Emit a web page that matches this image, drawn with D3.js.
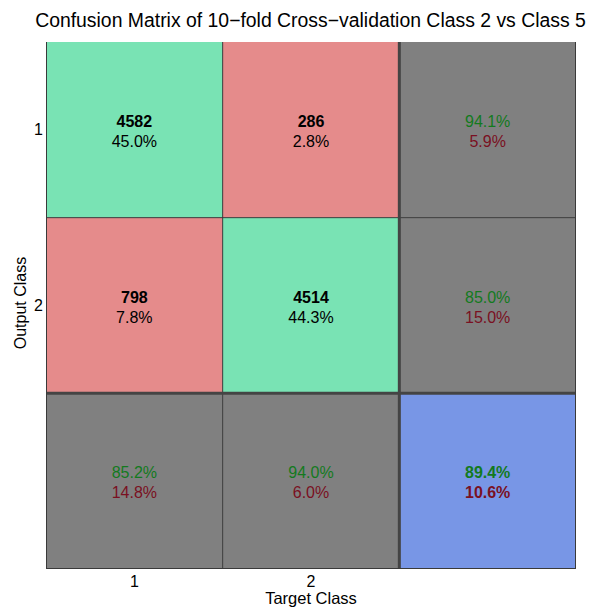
<!DOCTYPE html>
<html><head><meta charset="utf-8">
<script src="https://cdn.jsdelivr.net/npm/d3@7/dist/d3.min.js"></script>
<style>body{margin:0;background:#fff;}svg{display:block;font-family:"Liberation Sans",Arial,sans-serif;}</style>
</head><body>
<script>
const title = "Confusion Matrix of 10\u2212fold Cross\u2212validation Class 2 vs Class 5";
const classes = ["1", "2"];
const counts = [[4582, 286], [798, 4514]];            // rows: output, cols: target
const cellPct = [["45.0%", "2.8%"], ["7.8%", "44.3%"]];
const rowCorrect = ["94.1%", "85.0%"];
const rowWrong = ["5.9%", "15.0%"];
const colCorrect = ["85.2%", "94.0%"];
const colWrong = ["14.8%", "6.0%"];
const totalCorrect = "89.4%";
const totalWrong = "10.6%";

const W = 597, H = 607;
const svg = d3.select("body").append("svg").attr("width", W).attr("height", H);
const L = 46, R = 576, T = 42, B = 569;
const idx = [0, 1, 2];
const x = d3.scaleBand().domain(idx).range([L, R]);
const y = d3.scaleBand().domain(idx).range([T, B]);

const green = "#79e3b4", red = "#e58b8b", gray = "#808080", blue = "#7896e6";
const gText = "#137a1e", rText = "#7a1022";

const cells = [];
for (let r = 0; r < 3; r++) for (let c = 0; c < 3; c++) {
  let fill, l1, l2, c1, c2, b1;
  if (r < 2 && c < 2) { fill = r === c ? green : red; l1 = String(counts[r][c]); l2 = cellPct[r][c]; c1 = "#000"; c2 = "#000"; b1 = true; }
  else if (r < 2) { fill = gray; l1 = rowCorrect[r]; l2 = rowWrong[r]; c1 = gText; c2 = rText; b1 = false; }
  else if (c < 2) { fill = gray; l1 = colCorrect[c]; l2 = colWrong[c]; c1 = gText; c2 = rText; b1 = false; }
  else { fill = blue; l1 = totalCorrect; l2 = totalWrong; c1 = gText; c2 = rText; b1 = "both"; }
  cells.push({r, c, fill, l1, l2, c1, c2, b1});
}

svg.selectAll("rect.cell").data(cells).join("rect").attr("class", "cell")
  .attr("x", d => x(d.c)).attr("y", d => y(d.r))
  .attr("width", x.bandwidth()).attr("height", y.bandwidth())
  .attr("fill", d => d.fill);

// thin grid lines
const lineCol = "#3a3a3a";
[1].forEach(i => {
  svg.append("line").attr("x1", x(i)).attr("x2", x(i)).attr("y1", T).attr("y2", B).attr("stroke", lineCol).attr("stroke-width", 1);
  svg.append("line").attr("x1", L).attr("x2", R).attr("y1", y(i)).attr("y2", y(i)).attr("stroke", lineCol).attr("stroke-width", 1);
});
// thick separators
svg.append("line").attr("x1", x(2)).attr("x2", x(2)).attr("y1", T).attr("y2", B).attr("stroke", "#444").attr("stroke-width", 3);
svg.append("line").attr("x1", L).attr("x2", R).attr("y1", y(2)).attr("y2", y(2)).attr("stroke", "#444").attr("stroke-width", 3);
// borders
svg.append("line").attr("x1", L + 0.5).attr("x2", L + 0.5).attr("y1", T).attr("y2", B).attr("stroke", lineCol);
svg.append("line").attr("x1", R - 0.5).attr("x2", R - 0.5).attr("y1", T).attr("y2", B).attr("stroke", lineCol);
svg.append("line").attr("x1", L).attr("x2", R).attr("y1", B - 0.5).attr("y2", B - 0.5).attr("stroke", lineCol);

const fs = 16;
const tg = svg.selectAll("g.txt").data(cells).join("g").attr("class", "txt")
  .attr("transform", d => `translate(${x(d.c) + x.bandwidth() / 2},${y(d.r) + y.bandwidth() / 2})`);
tg.append("text").attr("y", -3).attr("text-anchor", "middle").attr("font-size", fs)
  .attr("font-weight", d => d.b1 ? "bold" : "normal").attr("fill", d => d.c1).text(d => d.l1);
tg.append("text").attr("y", 17).attr("text-anchor", "middle").attr("font-size", fs)
  .attr("font-weight", d => d.b1 === "both" ? "bold" : "normal").attr("fill", d => d.c2).text(d => d.l2);

// axes
const xa = d3.scaleBand().domain(classes).range([L, L + 2 * x.bandwidth()]);
const ya = d3.scaleBand().domain(classes).range([T, T + 2 * y.bandwidth()]);
svg.append("g").attr("transform", `translate(0,${B})`)
  .call(d3.axisBottom(xa).tickSize(0).tickPadding(7))
  .call(g => g.select(".domain").remove())
  .selectAll("text").attr("font-size", 16).attr("font-family", "Liberation Sans, Arial, sans-serif").attr("fill", "#000");
svg.append("g").attr("transform", `translate(${L},0)`)
  .call(d3.axisLeft(ya).tickSize(0).tickPadding(3))
  .call(g => g.select(".domain").remove())
  .selectAll("text").attr("font-size", 16).attr("font-family", "Liberation Sans, Arial, sans-serif").attr("fill", "#000");

svg.append("text").attr("x", xa("2") + xa.bandwidth() / 2).attr("y", 604).attr("text-anchor", "middle")
  .attr("font-size", 16.5).text("Target Class");
svg.append("text").attr("transform", `translate(26,303) rotate(-90)`).attr("text-anchor", "middle")
  .attr("font-size", 16).text("Output Class");
svg.append("text").attr("x", 310.5).attr("y", 26.5).attr("text-anchor", "middle")
  .attr("font-size", 19.4).text(title);
</script>
</body></html>
